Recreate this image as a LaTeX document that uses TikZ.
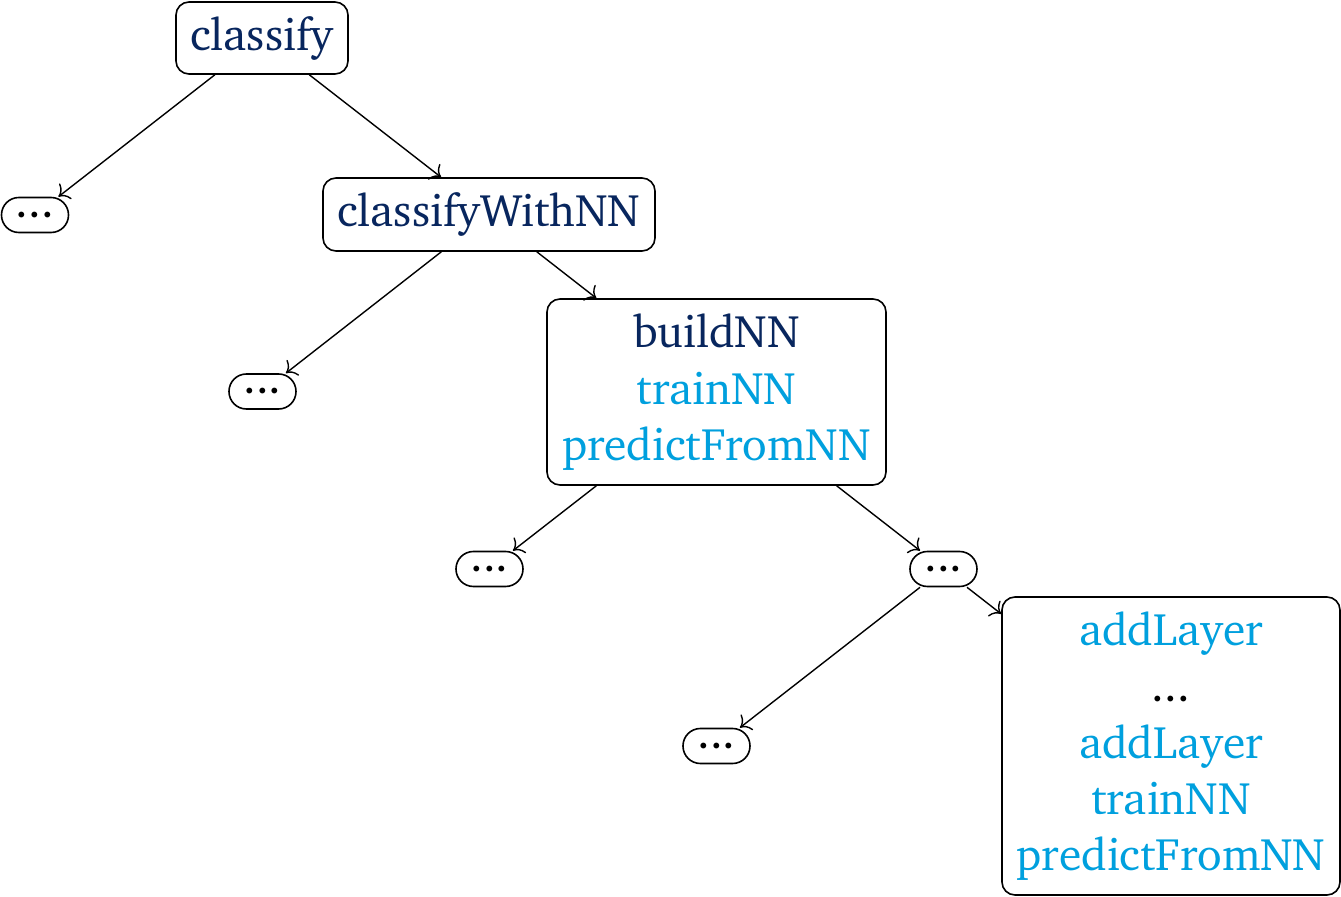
\documentclass[tikz,border=0pt]{standalone}
\usepackage[T1]{fontenc}
\usepackage{charter}
\usetikzlibrary{arrows.meta}
\definecolor{navy}{RGB}{8,38,94}
\definecolor{sky}{RGB}{0,160,222}
\newcommand{\mydots}{...}
\tikzset{
  box/.style={draw,line width=0.8pt,rounded corners=6.5pt,inner sep=0pt,align=center,fill=white},
  dotbox/.style={box,rounded corners=8.7pt,minimum width=33.5pt,minimum height=17.5pt},
  link/.style={-{To[scale=1.5]},line width=0.7pt}
}
\begin{document}
\begin{tikzpicture}[x=0.5pt,y=-0.5pt,font=\fontsize{22.8}{28.2}\selectfont]
\useasboundingbox (0,0) rectangle (1341,897);
\node[box,minimum width=86pt,minimum height=36pt,text=navy] (c) at (262,38) {classify};
\node[dotbox] (d1) at (35,215) {\mydots};
\node[box,minimum width=166pt,minimum height=36.5pt,text=navy] (cw) at (489,214.5) {classifyWithNN};
\node[dotbox] (d2) at (262.5,391.5) {\mydots};
\node[box,minimum width=169.5pt,minimum height=93pt] (b) at (716.5,392) {\textcolor{navy}{buildNN}\\\textcolor{sky}{trainNN}\\\textcolor{sky}{predictFromNN}};
\node[dotbox] (d3) at (489.5,569) {\mydots};
\node[dotbox] (d4) at (943.5,569) {\mydots};
\node[dotbox] (d5) at (716.5,746) {\mydots};
\node[box,minimum width=169pt,minimum height=149pt] (a) at (1171,746) {\textcolor{sky}{addLayer}\\\mydots\\\textcolor{sky}{addLayer}\\\textcolor{sky}{trainNN}\\\textcolor{sky}{predictFromNN}};
\draw[link] (c) -- (d1);
\draw[link] (c) -- (cw);
\draw[link] (cw) -- (d2);
\draw[link] (cw) -- (b);
\draw[link] (b) -- (d3);
\draw[link] (b) -- (d4);
\draw[link] (d4) -- (d5);
\draw[link] (d4) -- (a);
\end{tikzpicture}
\end{document}
